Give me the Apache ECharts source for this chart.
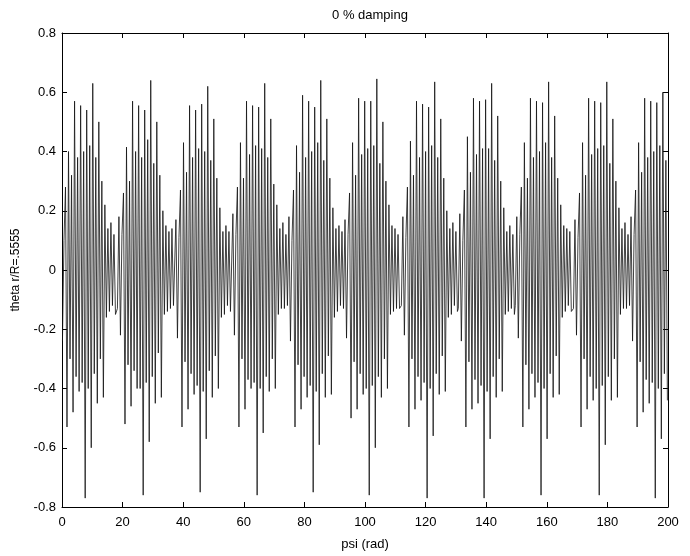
<!DOCTYPE html>
<html>
<head>
<meta charset="utf-8">
<script src="https://cdn.jsdelivr.net/npm/echarts@6/dist/echarts.min.js"></script>
<style>
html,body{margin:0;padding:0;background:#fff;}
#chart{width:690px;height:556px;}
</style>
</head>
<body>
<div id="chart"></div>
<script>
// ---- data ----
const titleText = '0 % damping';
const xName = 'psi (rad)';
const yName = 'theta r/R=.5555';
const xTicks = [0, 20, 40, 60, 80, 100, 120, 140, 160, 180, 200];
const yTicks = [-0.8, -0.6, -0.4, -0.2, 0, 0.2, 0.4, 0.6, 0.8];

// sampling interval of the signal (psi, rad)
const sampleStep = 0.5;
// psi at which each burst of the signal begins
const burstStart = [-0.85, 18.29, 37.1, 55.9, 74.4, 92.9, 112.0, 130.8, 149.6, 168.8, 187.3];

// theta r/R samples for each burst
const burst1 = [-0.12,0.18,-0.24,0.10,0.28, -0.53,0.40,-0.30,0.32, -0.48,0.57,-0.36,0.38, -0.41,0.555,-0.38,0.40, -0.77,0.54,-0.40,0.42, -0.60,0.63,-0.35,0.38, -0.45,0.50,-0.30,0.30, -0.43,0.22,-0.16,0.14,-0.14,0.16,-0.12,0.12,-0.15];
const burst2 = [-0.13,0.18,-0.22,0.12,0.26, -0.52,0.415,-0.32,0.30, -0.46,0.57,-0.34,0.40, -0.40,0.555,-0.40,0.38, -0.76,0.54,-0.38,0.44, -0.58,0.64,-0.36,0.36, -0.45,0.50,-0.28,0.32, -0.43,0.20,-0.15,0.15,-0.14,0.13,-0.13,0.14,-0.12];
const burst3 = [-0.12,0.17,-0.23,0.11,0.27, -0.53,0.43,-0.31,0.33, -0.47,0.555,-0.35,0.38, -0.42,0.54,-0.39,0.41, -0.75,0.56,-0.41,0.40, -0.57,0.62,-0.34,0.37, -0.43,0.51,-0.29,0.31, -0.40,0.21,-0.16,0.13,-0.15,0.15,-0.12,0.13,-0.14];
const burst4 = [-0.14,0.19,-0.22,0.12,0.28, -0.53,0.43,-0.30,0.31, -0.47,0.57,-0.37,0.39, -0.40,0.555,-0.38,0.42, -0.76,0.55,-0.40,0.41, -0.55,0.63,-0.36,0.38, -0.41,0.51,-0.30,0.29, -0.40,0.22,-0.15,0.14,-0.13,0.16,-0.13,0.12,-0.14];
const burst5 = [-0.12,0.18,-0.24,0.10,0.27, -0.53,0.42,-0.32,0.33, -0.47,0.59,-0.36,0.38, -0.43,0.57,-0.39,0.40, -0.75,0.55,-0.41,0.43, -0.59,0.64,-0.35,0.37, -0.43,0.51,-0.29,0.31, -0.42,0.21,-0.16,0.14,-0.14,0.15,-0.12,0.13,-0.15];
const burst6 = [-0.13,0.17,-0.23,0.12,0.26, -0.50,0.43,-0.31,0.32, -0.47,0.58,-0.35,0.39, -0.42,0.57,-0.40,0.41, -0.76,0.57,-0.39,0.42, -0.60,0.645,-0.36,0.36, -0.43,0.50,-0.30,0.30, -0.40,0.22,-0.15,0.15,-0.14,0.14,-0.13,0.12,-0.13];
const burst7 = [-0.12,0.18,-0.22,0.11,0.28, -0.53,0.435,-0.30,0.32, -0.47,0.57,-0.36,0.38, -0.44,0.56,-0.38,0.40, -0.77,0.55,-0.40,0.42, -0.56,0.635,-0.35,0.38, -0.42,0.51,-0.29,0.31, -0.41,0.20,-0.16,0.14,-0.15,0.16,-0.12,0.13,-0.14];
const burst8 = [-0.13,0.19,-0.24,0.10,0.27, -0.53,0.45,-0.31,0.33, -0.47,0.58,-0.37,0.39, -0.45,0.57,-0.39,0.41, -0.77,0.575,-0.41,0.41, -0.57,0.63,-0.36,0.37, -0.43,0.52,-0.30,0.30, -0.41,0.21,-0.15,0.13,-0.14,0.15,-0.13,0.12,-0.15];
const burst9 = [-0.12,0.18,-0.23,0.12,0.28, -0.53,0.43,-0.32,0.31, -0.47,0.58,-0.35,0.38, -0.43,0.57,-0.38,0.40, -0.76,0.565,-0.40,0.43, -0.57,0.635,-0.35,0.38, -0.43,0.52,-0.29,0.31, -0.42,0.22,-0.16,0.15,-0.14,0.14,-0.12,0.13,-0.14];
const burst10 = [-0.13,0.17,-0.22,0.11,0.26, -0.53,0.43,-0.30,0.32, -0.47,0.58,-0.36,0.39, -0.44,0.57,-0.40,0.41, -0.76,0.565,-0.39,0.42, -0.59,0.635,-0.36,0.36, -0.44,0.51,-0.30,0.30, -0.43,0.21,-0.15,0.14,-0.13,0.16,-0.13,0.12,-0.15];
const burst11 = [-0.12,0.18,-0.24,0.12,0.27, -0.53,0.43,-0.31,0.33, -0.48,0.58,-0.37,0.38, -0.45,0.57,-0.38,0.40, -0.77,0.565,-0.40,0.42, -0.57,0.60,-0.35,0.37, -0.44,0.50,-0.29,0.31, -0.43,0.22,-0.16,0.14,-0.14,0.15,-0.12,0.13,-0.14];

const bursts = [burst1, burst2, burst3, burst4, burst5, burst6, burst7, burst8, burst9, burst10, burst11];

// build [psi, theta] pairs from the arrays above (only the visible 0..200 range)
const psiMin = xTicks[0], psiMax = xTicks[xTicks.length - 1];
const series = [];
bursts.forEach(function (vals, k) {
  const next = k + 1 < burstStart.length ? burstStart[k + 1] : Infinity;
  for (let i = 0; i < vals.length; i++) {
    const psi = burstStart[k] + i * sampleStep;
    if (psi >= next) break;
    if (psi < psiMin || psi > psiMax) continue;
    series.push([psi, vals[i]]);
  }
});

const font = 'Liberation Sans, Arial, Helvetica, sans-serif';
const axisCommonX = {
  type: 'value', min: psiMin, max: psiMax, interval: 20,
  axisLine: { show: true, onZero: false, lineStyle: { color: '#000', width: 1 } },
  axisTick: { show: true, inside: true, length: 5, lineStyle: { color: '#000' } },
  splitLine: { show: false }
};
const axisCommonY = {
  type: 'value', min: yTicks[0], max: yTicks[yTicks.length - 1], interval: 0.2,
  axisLine: { show: true, onZero: false, lineStyle: { color: '#000', width: 1 } },
  axisTick: { show: true, inside: true, length: 5, lineStyle: { color: '#000' } },
  splitLine: { show: false }
};

const chart = echarts.init(document.getElementById('chart'), null, { renderer: 'canvas' });
chart.setOption({
  animation: false,
  backgroundColor: '#fff',
  title: {
    text: titleText, left: 365, top: 4, textAlign: 'center',
    textStyle: { fontFamily: font, fontSize: 13, fontWeight: 'normal', color: '#000' }
  },
  grid: { left: 62, right: 22, top: 33, bottom: 49, containLabel: false },
  xAxis: [
    Object.assign({}, axisCommonX, {
      position: 'bottom',
      name: xName, nameLocation: 'middle', nameGap: 31,
      nameTextStyle: { fontFamily: font, fontSize: 13, color: '#000' },
      axisLabel: { show: true, color: '#000', fontFamily: font, fontSize: 13, margin: 9 }
    }),
    Object.assign({}, axisCommonX, { position: 'top', axisLabel: { show: false } })
  ],
  yAxis: [
    Object.assign({}, axisCommonY, {
      position: 'left',
      name: yName, nameLocation: 'middle', nameGap: 40,
      nameTextStyle: { fontFamily: font, fontSize: 12, color: '#000' },
      axisLabel: {
        show: true, color: '#000', fontFamily: font, fontSize: 13, margin: 6,
        formatter: function (v) { const r = Math.round(v * 10) / 10; return r === 0 ? '0' : r.toFixed(1); }
      }
    }),
    Object.assign({}, axisCommonY, { position: 'right', axisLabel: { show: false } })
  ],
  series: [{
    type: 'line',
    data: series,
    xAxisIndex: 0, yAxisIndex: 0,
    showSymbol: false,
    symbol: 'none',
    clip: true,
    lineStyle: { color: '#111', width: 0.8 }
  }]
});
</script>
</body>
</html>
